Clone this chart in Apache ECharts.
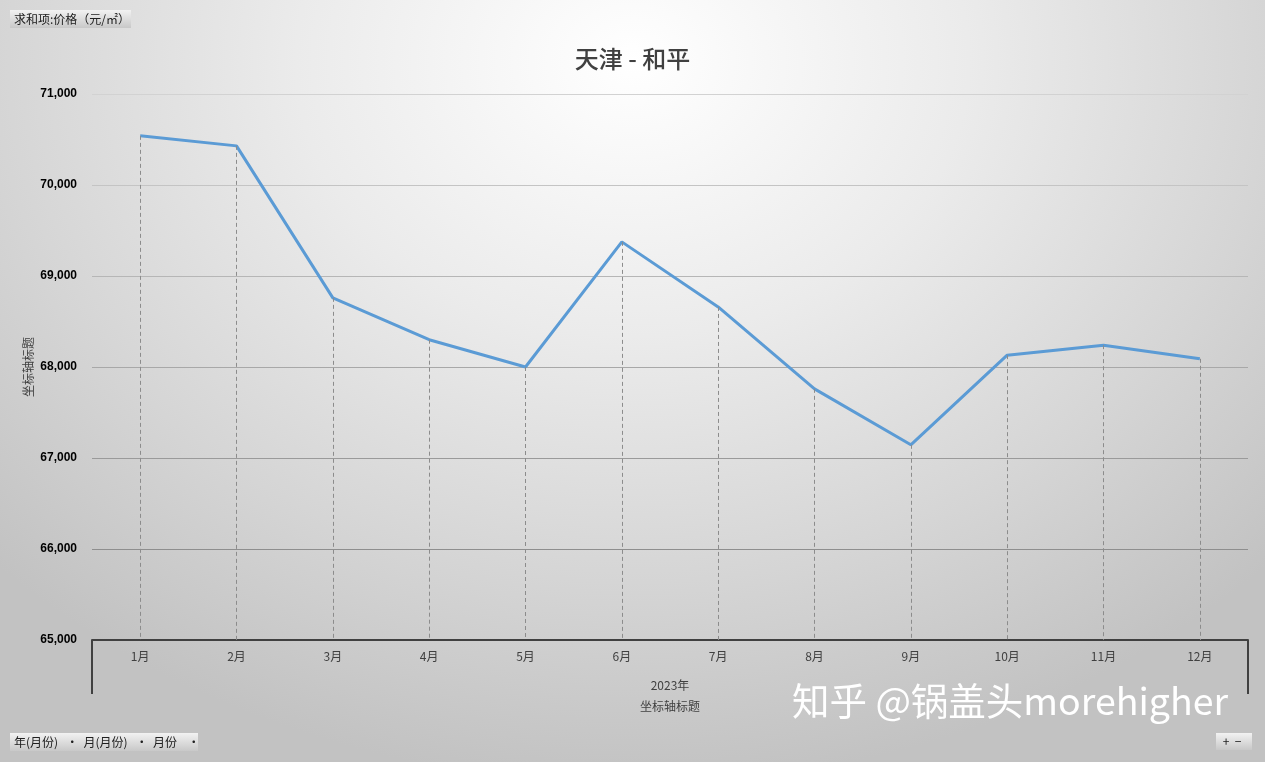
<!DOCTYPE html>
<html>
<head>
<meta charset="utf-8">
<script src="https://cdn.jsdelivr.net/npm/echarts@6/dist/echarts.min.js"></script>
<style>
html,body{margin:0;padding:0;width:1265px;height:762px;overflow:hidden;}
#c{width:1265px;height:762px;background:radial-gradient(ellipse 70% 95% at 50% 8%, #ffffff 0%, #ebebeb 38%, #d5d5d5 72%, #c2c2c2 100%);}
</style>
</head>
<body>
<div id="c"></div>
<script>
const categories = ['1月','2月','3月','4月','5月','6月','7月','8月','9月','10月','11月','12月'];
const prices = [70540, 70430, 68760, 68300, 68000, 69375, 68660, 67760, 67145, 68130, 68240, 68090];
const yTicks = { min: 65000, max: 71000, interval: 1000 };
const titleText = '天津 - 和平';
const yearLabel = '2023年';
const axisTitle = '坐标轴标题';

const chart = echarts.init(document.getElementById('c'), null, {renderer: 'canvas'});
const fontFam = '"Noto Sans CJK SC", "Liberation Sans", sans-serif';

const dropLines = prices.map((v, i) => [
  { coord: [i, v] },
  { coord: [i, yTicks.min] }
]);

function btn(x, y, w, h, txt) {
  return {
    type: 'group', left: x, top: y,
    children: [
      { type: 'rect', shape: { x: 0, y: 0, width: w, height: h },
        style: { fill: new echarts.graphic.LinearGradient(0, 0, 0, 1, [{offset:0,color:'#f2f2f2'},{offset:1,color:'#c8c8c8'}]) } },
      { type: 'text', x: 4, y: h / 2, style: { text: txt, fill: '#202020', font: '12px ' + fontFam, verticalAlign: 'middle' } }
    ]
  };
}

const option = {
  backgroundColor: 'transparent',
  animation: false,
  title: {
    text: titleText, left: 'center', top: 42,
    textStyle: { fontSize: 24, fontWeight: 500, color: '#404040', fontFamily: fontFam }
  },
  grid: { left: 92, right: 17, top: 94, bottom: 122, containLabel: false },
  xAxis: {
    type: 'category', data: categories, boundaryGap: true,
    axisLine: { show: true, lineStyle: { color: '#404040', width: 2 } },
    axisTick: { show: false },
    axisLabel: { color: '#404040', fontSize: 12, fontFamily: fontFam, margin: 10 },
    name: '{a|' + yearLabel + '}\n{b|' + axisTitle + '}',
    nameLocation: 'middle', nameGap: 35, nameMoveOverlap: false,
    nameTextStyle: {
      rich: {
        a: { fontSize: 12, color: '#404040', fontFamily: fontFam, lineHeight: 21 },
        b: { fontSize: 12, color: '#404040', fontFamily: fontFam, lineHeight: 21 }
      }
    },
    splitLine: { show: false }
  },
  yAxis: {
    type: 'value', min: yTicks.min, max: yTicks.max, interval: yTicks.interval,
    axisLine: { show: false }, axisTick: { show: false },
    axisLabel: {
      color: '#000', fontSize: 12, fontWeight: 'bold', fontFamily: '"Liberation Sans", Arial, sans-serif', margin: 15,
      formatter: v => v.toLocaleString('en-US')
    },
    splitLine: { lineStyle: { color: ['#808080', '#8e8e8e', '#9a9a9a', '#a8a8a8', '#b6b6b6', '#c4c4c4', '#d2d2d2'], width: 1 } },
    name: axisTitle, nameLocation: 'middle', nameGap: 58, nameRotate: 90, nameMoveOverlap: false,
    nameTextStyle: { color: '#404040', fontSize: 12, fontFamily: fontFam }
  },
  series: [{
    type: 'line', data: prices, symbol: 'none',
    lineStyle: { color: '#5b9bd5', width: 3 },
    markLine: {
      silent: true, symbol: 'none', label: { show: false },
      lineStyle: { type: [4, 3], color: '#8c8c8c', width: 1 },
      emphasis: { disabled: true },
      data: dropLines
    },
    z: 3
  }]
};
chart.setOption(option);

const c0 = chart.convertToPixel({ gridIndex: 0 }, [0, yTicks.min]);
const c1 = chart.convertToPixel({ gridIndex: 0 }, [1, yTicks.min]);
const bw = c1[0] - c0[0];
const xL = c0[0] - bw / 2;
const xR = c0[0] + bw * (categories.length - 0.5);
const yB = c0[1];
chart.setOption({
  graphic: [
    { type: 'line', shape: { x1: xL, y1: yB, x2: xL, y2: yB + 54 }, style: { stroke: '#404040', lineWidth: 2 } },
    { type: 'line', shape: { x1: xR, y1: yB, x2: xR, y2: yB + 54 }, style: { stroke: '#404040', lineWidth: 2 } },
    btn(10, 10, 121, 18, '求和项:价格（元/㎡）'),
    btn(10, 733, 188, 18, '年(月份)   ·  月(月份)   ·  月份    ·'),
    btn(1216, 733, 36, 17, ' +  −'),
    { type: 'text', left: 792, top: 682, z: 100,
      style: { text: '知乎 @锅盖头morehigher', fill: '#ffffff', font: '37.5px ' + fontFam,
        shadowColor: 'rgba(0,0,0,0.45)', shadowBlur: 3, shadowOffsetX: 2, shadowOffsetY: 2 } }
  ]
});
</script>
</body>
</html>
